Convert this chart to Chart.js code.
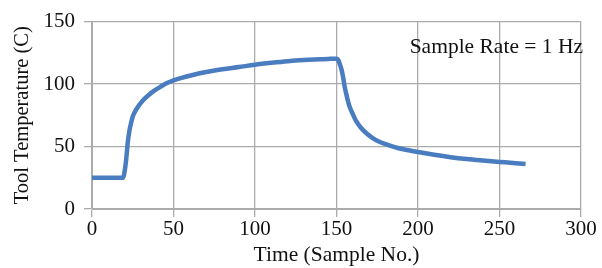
<!DOCTYPE html>
<html><head><meta charset="utf-8">
<script src="https://cdn.jsdelivr.net/npm/chart.js@4/dist/chart.umd.min.js"></script>
<style>html,body{margin:0;padding:0;background:#fff}#wrap{width:602px;height:268px;position:relative}</style>
</head><body><div id="wrap"><canvas id="c" width="602" height="268"></canvas></div>
<script>
const timeSamples = [0,5,10,15,19,20,21,22,23,24,25,26,28,30,32,35,38,42,46,50,55,60,70,80,90,100,110,120,130,140,145,148,150,151,152,153,154,155,156,157,158,160,162,165,168,172,176,180,187,195,200,210,220,230,240,250,260,266];
const toolTemp    = [25,25,25,25,25,30,40,54,63,69,74,77,81.5,85,88,91.5,94.5,97.8,100.8,103,105,106.7,109.6,111.8,113.6,115.5,117,118.3,119.2,119.8,120.1,120.3,120.3,119.5,116,112,106,98,92,86.5,82,76,70.5,65,61,57,54,52,49,46.8,45.6,43.4,41.5,40,38.8,37.7,36.6,36];
const xTicks = [0,50,100,150,200,250,300];
const yTicks = [0,50,100,150];
const annotationText = 'Sample Rate = 1 Hz';

const serif = "'Liberation Serif','Times New Roman',serif";
const points = timeSamples.map((t,i)=>({x:t,y:toolTemp[i]}));

const annot = {
  id:'annot',
  afterDraw(chart){
    const ctx = chart.ctx, a = chart.chartArea;
    ctx.save();
    ctx.font = "21.5px " + serif;
    ctx.fillStyle = '#111';
    ctx.textAlign = 'right';
    ctx.textBaseline = 'middle';
    ctx.fillText(annotationText, a.right + 2, 47);
    ctx.restore();
  }
};

new Chart(document.getElementById('c'), {
  type:'scatter',
  data:{datasets:[{data:points, showLine:true, borderColor:'#4a7cc0', borderWidth:4.5, pointRadius:0, cubicInterpolationMode:'monotone', fill:false}]},
  options:{
    responsive:false, animation:false,
    layout:{padding:{left:0,right:21,top:20,bottom:0}},
    plugins:{legend:{display:false}, tooltip:{enabled:false}},
    scales:{
      x:{type:'linear', min:0, max:300,
        afterBuildTicks(s){ s.ticks = xTicks.map(v=>({value:v})); },
        afterFit(s){ s.height = 59; },
        grid:{color:'#ababab', lineWidth:1.3, tickLength:8, drawTicks:true},
        border:{display:true,color:'#ababab'},
        ticks:{color:'#111', font:{family:serif,size:21}, padding:0, maxRotation:0},
        title:{display:true, text:'Time (Sample No.)', color:'#111', font:{family:serif,size:21.5}, padding:{top:0,bottom:0}}
      },
      y:{type:'linear', min:0, max:150,
        afterBuildTicks(s){ s.ticks = yTicks.map(v=>({value:v})); },
        afterFit(s){ s.width = 92; },
        grid:{color:'#ababab', lineWidth:1.3, tickLength:8},
        border:{display:true,color:'#ababab'},
        ticks:{color:'#111', font:{family:serif,size:21}, padding:9},
        title:{display:true, text:'Tool Temperature (C)', color:'#111', font:{family:serif,size:20.5}, padding:{top:10,bottom:0}}
      }
    }
  },
  plugins:[annot]
});
</script></body></html>
